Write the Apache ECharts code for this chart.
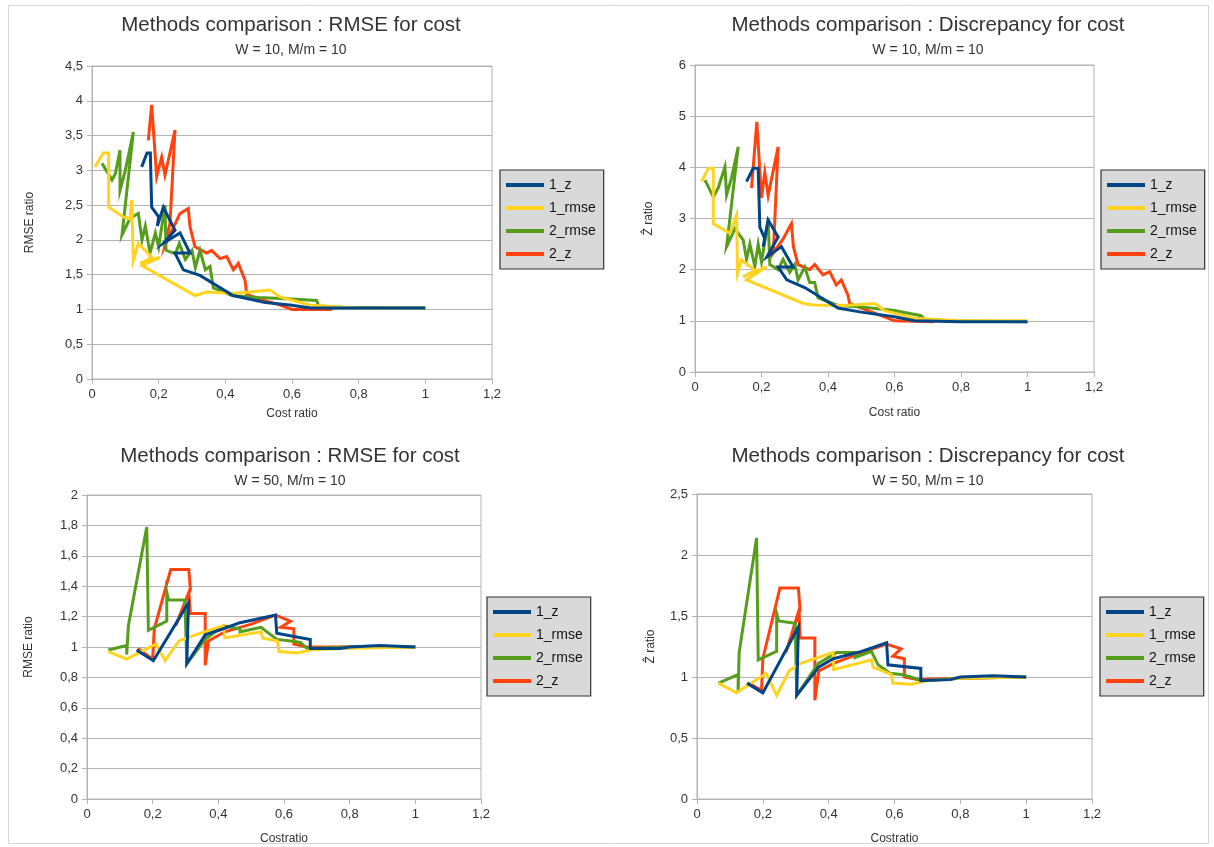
<!DOCTYPE html>
<html><head><meta charset="utf-8">
<script src="https://cdn.jsdelivr.net/npm/echarts@6/dist/echarts.min.js"></script>
<style>html,body{margin:0;padding:0;background:#fff}#c{width:1214px;height:847px}</style>
</head><body><div id="c"></div>
<script>
// ---------- DATA ----------
const seriesNames = ['1_z', '1_rmse', '2_rmse', '2_z'];

const panelTitles = ['Methods comparison : RMSE for cost', 'Methods comparison : Discrepancy for cost',
                     'Methods comparison : RMSE for cost', 'Methods comparison : Discrepancy for cost'];
const panelSubtitles = ['W = 10, M/m = 10', 'W = 10, M/m = 10', 'W = 50, M/m = 10', 'W = 50, M/m = 10'];
const xAxisNames = ['Cost ratio', 'Cost ratio', 'Costratio', 'Costratio'];
const yAxisNames = ['RMSE ratio', 'Ẑ ratio', 'RMSE ratio', 'Ẑ ratio'];
const yMaxes = [4.5, 6, 2, 2.5];
const yIntervals = [0.5, 1, 0.2, 0.5];
const xMax = 1.2, xInterval = 0.2;

// Top-left: RMSE, W=10
const tl_1z = [[0.149,3.05],[0.165,3.25],[0.175,3.25],[0.179,2.47],[0.2,2.33],[0.196,2.2],[0.214,2.47],[0.249,2.14],[0.214,1.95],[0.264,2.1],[0.294,1.81],[0.249,1.81],[0.274,1.57],[0.324,1.49],[0.423,1.2],[0.52,1.1],[0.6,1.06],[0.655,1.02],[0.8,1.02],[1.0,1.02]];
const tl_1rmse = [[0.009,3.05],[0.034,3.25],[0.05,3.25],[0.05,2.47],[0.094,2.33],[0.114,2.3],[0.119,2.57],[0.124,1.71],[0.139,1.95],[0.18,1.75],[0.144,1.66],[0.204,1.75],[0.15,1.63],[0.309,1.2],[0.344,1.25],[0.423,1.23],[0.534,1.28],[0.564,1.18],[0.655,1.06],[0.8,1.02],[1.0,1.02]];
const tl_2rmse = [[0.03,3.1],[0.06,2.86],[0.07,2.95],[0.084,3.29],[0.084,2.71],[0.1,3.0],[0.124,3.55],[0.09,2.07],[0.114,2.31],[0.139,2.38],[0.15,2.0],[0.16,2.2],[0.174,1.81],[0.19,2.1],[0.2,1.9],[0.219,2.5],[0.222,1.85],[0.25,1.8],[0.262,1.95],[0.28,1.72],[0.3,1.85],[0.31,1.6],[0.324,1.85],[0.34,1.57],[0.354,1.62],[0.364,1.31],[0.42,1.2],[0.5,1.17],[0.6,1.15],[0.674,1.13],[0.68,1.05],[0.75,1.03],[1.0,1.02]];
const tl_2z = [[0.169,3.43],[0.179,3.94],[0.194,2.91],[0.209,3.19],[0.219,2.93],[0.249,3.58],[0.234,2.24],[0.219,1.92],[0.264,2.38],[0.289,2.45],[0.294,2.19],[0.309,1.9],[0.344,1.81],[0.359,1.85],[0.384,1.73],[0.404,1.76],[0.424,1.57],[0.439,1.66],[0.459,1.42],[0.464,1.22],[0.5,1.15],[0.56,1.07],[0.6,1.0],[0.72,1.0]];

// Top-right: Discrepancy, W=10
const tr_1z = [[0.155,3.72],[0.175,3.98],[0.19,3.98],[0.195,2.83],[0.21,2.6],[0.205,2.45],[0.22,2.97],[0.25,2.64],[0.216,2.25],[0.26,2.45],[0.295,2.05],[0.25,2.05],[0.276,1.8],[0.33,1.65],[0.43,1.25],[0.5,1.17],[0.6,1.08],[0.66,1.0],[0.8,0.98],[1.0,0.98]];
const tr_1rmse = [[0.02,3.72],[0.04,3.98],[0.055,3.98],[0.055,2.9],[0.105,2.71],[0.125,3.07],[0.128,1.93],[0.14,2.19],[0.18,1.99],[0.145,1.86],[0.216,2.06],[0.155,1.8],[0.326,1.34],[0.356,1.31],[0.45,1.3],[0.541,1.34],[0.57,1.2],[0.66,1.05],[0.8,1.0],[1.0,1.0]];
const tr_2rmse = [[0.03,3.75],[0.055,3.42],[0.07,3.6],[0.09,4.01],[0.095,3.46],[0.11,3.8],[0.13,4.4],[0.095,2.45],[0.12,2.8],[0.145,2.58],[0.155,2.2],[0.165,2.5],[0.18,2.06],[0.19,2.5],[0.2,2.15],[0.22,2.97],[0.225,2.1],[0.25,2.0],[0.265,2.2],[0.285,1.95],[0.3,2.1],[0.31,1.8],[0.33,2.05],[0.345,1.75],[0.36,1.75],[0.37,1.45],[0.43,1.3],[0.5,1.27],[0.6,1.2],[0.68,1.1],[0.69,1.03],[0.76,1.0],[1.0,0.98]];
const tr_2z = [[0.17,3.6],[0.186,4.89],[0.2,3.4],[0.21,3.9],[0.22,3.45],[0.25,4.4],[0.236,2.4],[0.222,2.2],[0.265,2.6],[0.29,2.9],[0.296,2.45],[0.31,2.1],[0.345,2.0],[0.36,2.1],[0.385,1.9],[0.405,1.96],[0.425,1.7],[0.44,1.8],[0.46,1.5],[0.465,1.34],[0.5,1.25],[0.56,1.1],[0.6,1.0],[0.72,0.98]];

// Bottom-left: RMSE, W=50
const bl_1z = [[0.151,0.98],[0.202,0.91],[0.309,1.29],[0.304,0.89],[0.36,1.08],[0.415,1.12],[0.466,1.16],[0.574,1.21],[0.578,1.09],[0.68,1.05],[0.68,0.99],[0.77,0.99],[0.8,1.0],[0.892,1.01],[1.0,1.0]];
const bl_1rmse = [[0.065,0.97],[0.121,0.92],[0.21,1.02],[0.238,0.91],[0.28,1.04],[0.33,1.08],[0.415,1.14],[0.42,1.06],[0.53,1.1],[0.535,1.06],[0.58,1.04],[0.585,0.97],[0.64,0.96],[0.68,0.98],[0.77,0.99],[1.0,1.0]];
const bl_2rmse = [[0.065,0.98],[0.121,1.01],[0.121,0.95],[0.126,1.14],[0.182,1.79],[0.187,1.11],[0.243,1.17],[0.243,1.36],[0.248,1.31],[0.298,1.31],[0.304,0.89],[0.36,1.05],[0.415,1.14],[0.466,1.12],[0.466,1.1],[0.53,1.13],[0.578,1.05],[0.62,1.04],[0.65,1.03],[0.67,0.99],[0.8,1.0],[1.0,1.0]];
const bl_2z = [[0.155,0.99],[0.2,0.92],[0.205,1.12],[0.255,1.51],[0.31,1.51],[0.315,1.38],[0.27,1.14],[0.31,1.36],[0.315,1.22],[0.36,1.22],[0.36,0.88],[0.37,1.04],[0.42,1.1],[0.5,1.15],[0.574,1.21],[0.62,1.17],[0.59,1.13],[0.63,1.12],[0.63,1.02],[0.67,1.0],[0.8,1.0],[1.0,1.0]];

// Bottom-right: Discrepancy, W=50
const br_1z = [[0.152,0.95],[0.2,0.87],[0.308,1.41],[0.303,0.85],[0.369,1.08],[0.414,1.15],[0.5,1.21],[0.576,1.28],[0.58,1.1],[0.68,1.07],[0.68,0.97],[0.77,0.98],[0.8,1.0],[0.9,1.01],[1.0,1.0]];
const br_1rmse = [[0.065,0.95],[0.12,0.87],[0.21,1.03],[0.242,0.85],[0.28,1.05],[0.313,1.11],[0.413,1.2],[0.415,1.06],[0.53,1.14],[0.535,1.08],[0.591,1.02],[0.595,0.95],[0.65,0.94],[0.7,0.97],[0.8,0.99],[1.0,1.0]];
const br_2rmse = [[0.065,0.95],[0.125,1.02],[0.125,0.87],[0.128,1.2],[0.181,2.14],[0.186,1.14],[0.242,1.21],[0.242,1.52],[0.248,1.46],[0.298,1.44],[0.303,0.85],[0.368,1.11],[0.424,1.2],[0.48,1.2],[0.48,1.16],[0.53,1.21],[0.55,1.1],[0.586,1.03],[0.62,1.02],[0.65,1.0],[0.68,0.97],[0.8,0.99],[1.0,1.0]];
const br_2z = [[0.156,0.95],[0.196,0.89],[0.2,1.15],[0.252,1.73],[0.308,1.73],[0.313,1.55],[0.27,1.2],[0.31,1.55],[0.313,1.32],[0.358,1.32],[0.358,0.81],[0.37,1.05],[0.413,1.11],[0.5,1.2],[0.576,1.27],[0.62,1.23],[0.595,1.17],[0.63,1.15],[0.63,1.0],[0.67,0.98],[0.8,0.99],[1.0,1.0]];

const panelData = [
  [tl_1z, tl_1rmse, tl_2rmse, tl_2z],
  [tr_1z, tr_1rmse, tr_2rmse, tr_2z],
  [bl_1z, bl_1rmse, bl_2rmse, bl_2z],
  [br_1z, br_1rmse, br_2rmse, br_2z]
];

// ---------- STYLE / LAYOUT ----------
const colors = ['#004586', '#ffd320', '#579d1c', '#ff420e'];
const zOrder = [6, 5, 4, 3];
const grids = [
  {left: 92, top: 66, width: 400, height: 313},
  {left: 695, top: 65, width: 399, height: 307},
  {left: 87, top: 495, width: 394, height: 304},
  {left: 697, top: 494, width: 395, height: 305}
];
const titlePos = [[286, 10], [923, 10], [285, 441], [923, 441]];
const legendPos = [[500, 170], [1101, 170], [487, 597], [1100, 597]];
const yNameGap = [56, 40, 52, 40];
const xNameGap = [29, 35, 34, 34];
const FONT = 'Liberation Sans, Arial, sans-serif';

const fmt = v => String(Number(v.toFixed(3))).replace('.', ',');

const option = {
  backgroundColor: '#fff',
  animation: false,
  title: [], grid: [], xAxis: [], yAxis: [], legend: [], series: [],
  graphic: [{type: 'rect', shape: {x: 8.5, y: 5.5, width: 1200, height: 838},
             style: {fill: 'none', stroke: '#d6d6d6', lineWidth: 1}, silent: true}]
};

for (let p = 0; p < 4; p++) {
  const g = grids[p];
  option.grid.push(Object.assign({show: true, borderColor: '#b3b3b3', borderWidth: 1, backgroundColor: '#fff'}, g));
  option.title.push({
    text: panelTitles[p], subtext: panelSubtitles[p],
    left: titlePos[p][0], top: titlePos[p][1], textAlign: 'center', itemGap: 7,
    textStyle: {fontFamily: FONT, fontSize: 20.5, fontWeight: 'normal', color: '#333'},
    subtextStyle: {fontFamily: FONT, fontSize: 14, color: '#333'}
  });
  option.xAxis.push({
    type: 'value', gridIndex: p, min: 0, max: xMax, interval: xInterval,
    name: xAxisNames[p], nameLocation: 'middle', nameGap: xNameGap[p],
    nameTextStyle: {fontFamily: FONT, fontSize: 12, color: '#333'},
    axisLine: {show: true, onZero: false, lineStyle: {color: '#b3b3b3'}},
    axisTick: {show: true, inside: false, length: 5, lineStyle: {color: '#b3b3b3'}},
    axisLabel: {fontFamily: FONT, fontSize: 13, color: '#333', margin: 9, formatter: fmt},
    splitLine: {show: false}
  });
  option.yAxis.push({
    type: 'value', gridIndex: p, min: 0, max: yMaxes[p], interval: yIntervals[p],
    name: yAxisNames[p], nameLocation: 'middle', nameGap: yNameGap[p], nameRotate: 90,
    nameTextStyle: {fontFamily: FONT, fontSize: 12, color: '#333'},
    axisLine: {show: true, lineStyle: {color: '#b3b3b3'}},
    axisTick: {show: true, inside: false, length: 5, lineStyle: {color: '#b3b3b3'}},
    axisLabel: {fontFamily: FONT, fontSize: 13, color: '#333', margin: 9, formatter: fmt},
    splitLine: {show: true, lineStyle: {color: '#b3b3b3', width: 1}}
  });
  option.legend.push({
    data: seriesNames, orient: 'vertical', left: legendPos[p][0], top: legendPos[p][1],
    backgroundColor: '#d9d9d9', borderColor: '#333', borderWidth: 1.2,
    padding: [8, 8, 8, 6], itemGap: 9, itemWidth: 38, itemHeight: 4, icon: 'rect',
    textStyle: {fontFamily: FONT, fontSize: 14, color: '#111'}
  });
  for (let s = 0; s < 4; s++) {
    option.series.push({
      type: 'line', name: seriesNames[s], data: panelData[p][s],
      xAxisIndex: p, yAxisIndex: p, showSymbol: false, symbol: 'none',
      z: zOrder[s], color: colors[s],
      lineStyle: {width: 3, color: colors[s], join: 'miter'},
      itemStyle: {color: colors[s]}
    });
  }
}

const chart = echarts.init(document.getElementById('c'), null, {renderer: 'canvas'});
chart.setOption(option);
</script>
</body></html>
